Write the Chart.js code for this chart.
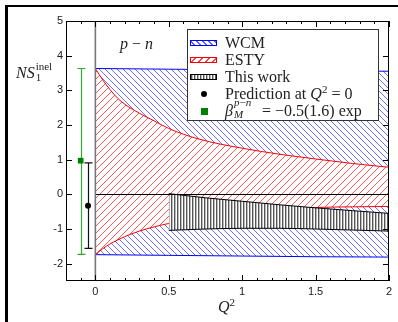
<!DOCTYPE html>
<html><head><meta charset="utf-8">
<script src="https://cdn.jsdelivr.net/npm/chart.js@4.4.1/dist/chart.umd.min.js"></script>
<style>
html,body{margin:0;padding:0;background:#fff;}
#wrap{position:relative;width:398px;height:322px;overflow:hidden;background:#fff;}
#c{position:absolute;left:0;top:0;}
.serif{font-family:"Liberation Serif","DejaVu Serif",serif;color:#222;position:absolute;white-space:nowrap;}
.fr{position:absolute;background:#000;}
#legend{position:absolute;left:187px;top:29px;width:192px;height:92px;border:1px solid #333;background:#fff;box-sizing:border-box;}
.row{position:absolute;left:37px;font-size:16px;line-height:17px;height:17px;}
.sw{position:absolute;left:2px;width:27px;height:6px;box-sizing:border-box;}
.mk{position:absolute;}
.eq{margin:0 4px;}
</style></head>
<body>
<div id="wrap">
<canvas id="c" width="398" height="322"></canvas>
<div class="fr" style="left:5px;top:5px;width:393px;height:2px;"></div>
<div class="fr" style="left:5px;top:5px;width:3px;height:317px;"></div>

<div class="serif" style="left:16px;top:62px;font-size:16px;line-height:18px;"><i>NS</i><span style="position:relative;display:inline-block;width:24px;height:16px;"><span style="position:absolute;left:1px;top:-2px;font-size:11px;line-height:12px;">inel</span><span style="position:absolute;left:1px;top:9px;font-size:11px;line-height:12px;">1</span></span></div>

<div class="serif" style="left:120px;top:35px;font-size:16px;line-height:18px;"><i>p</i> − <i>n</i></div>

<div class="serif" style="left:218px;top:298px;font-size:16px;line-height:18px;"><i>Q</i><span style="position:relative;top:-6px;font-size:11px;">2</span></div>

<div id="legend">
  <div class="sw" style="top:10px;border:1px solid #00f;background:repeating-linear-gradient(45deg,#fff 0 2px,#6060ff 2px 3px,#fff 3px 4.2px);"></div>
  <div class="row serif" style="top:4px;">WCM</div>
  <div class="sw" style="top:27px;border:1px solid #f00;background:repeating-linear-gradient(-45deg,#fff 0 2px,#ff4040 2px 3px,#fff 3px 4.9px);"></div>
  <div class="row serif" style="top:21px;">ESTY</div>
  <div class="sw" style="top:44px;border:1px solid #000;background:repeating-linear-gradient(90deg,#555 0 1px,#bbb 1px 2px,#fff 2px 3px);"></div>
  <div class="row serif" style="top:38px;">This work</div>
  <div class="mk" style="left:13px;top:61px;width:6px;height:6px;border-radius:50%;background:#000;"></div>
  <div class="row serif" style="top:55px;">Prediction at <i>Q</i><span style="position:relative;top:-6px;font-size:11px;">2</span><span class="eq">=</span>0</div>
  <div class="mk" style="left:13px;top:78px;width:7px;height:7px;background:#008000;"></div>
  <div class="row serif" style="top:72px;"><i>β</i><span style="position:relative;display:inline-block;width:25px;height:14px;"><span style="position:absolute;left:1px;top:-6px;font-size:11px;line-height:12px;"><i>p</i>−<i>n</i></span><span style="position:absolute;left:1px;top:6px;font-size:11px;line-height:12px;"><i>M</i></span></span><span class="eq">=</span>−0.5(1.6) exp</div>
</div>
</div>
<script>
// ---------- data ----------
const wcmX     = [0, 0.5, 1.0, 1.5, 2.0];
const wcmUpper = [3.63, 3.61, 3.59, 3.57, 3.55];
const wcmLower = [-1.74, -1.76, -1.78, -1.80, -1.81];

const estyX     = [0, 0.05, 0.1, 0.15, 0.2, 0.3, 0.4, 0.5, 0.7, 1.0, 1.25, 1.5, 1.75, 2.0];
const estyUpper = [3.63, 3.3, 3.02, 2.78, 2.6, 2.34, 2.12, 1.9, 1.6, 1.33, 1.16, 1.02, 0.89, 0.78];
const estyLower = [-1.74, -1.57, -1.43, -1.32, -1.22, -1.06, -0.94, -0.84, -0.69, -0.53, -0.44, -0.38, -0.36, -0.35];

const twX     = [0.5, 0.75, 1.0, 1.25, 1.5, 1.75, 2.0];
const twUpper = [0.02, -0.1, -0.2, -0.3, -0.39, -0.47, -0.55];
const twLower = [-1.04, -1.0, -0.98, -0.98, -1.0, -1.03, -1.06];

const predX = [-0.05], predY = [-0.33], predLo = [-1.56], predHi = [0.91];
const expX  = [-0.1],  expY  = [0.97],  expLo  = [-1.73], expHi  = [3.63];

const xTickVals   = [0, 0.5, 1, 1.5, 2];
const xTickLabels = ['0', '0.5', '1', '1.5', '2'];
const xMinorTicks = [-0.1, 0.1, 0.2, 0.3, 0.4, 0.6, 0.7, 0.8, 0.9, 1.1, 1.2, 1.3, 1.4, 1.6, 1.7, 1.8, 1.9];
const yTickVals   = [-2, -1, 0, 1, 2, 3, 4, 5];
const yTickLabels = ['-2', '-1', '0', '1', '2', '3', '4', '5'];
const zeroLineX = 0;
const zeroLineY = 0;

// ---------- patterns (pixel-drawn tiles) ----------
function hatch(color, dir, size) {
  const c = document.createElement('canvas'); c.width = c.height = size;
  const g = c.getContext('2d');
  g.fillStyle = '#ffffff'; g.fillRect(0, 0, size, size);
  g.fillStyle = color;
  for (let i = 0; i < size; i++) {
    const yy = dir === '/' ? size - 1 - i : i;
    g.fillRect(i, yy, 1, 1);
  }
  return g.createPattern(c, 'repeat');
}
function vert() {
  const c = document.createElement('canvas'); c.width = 3; c.height = 4;
  const g = c.getContext('2d');
  g.fillStyle = '#ffffff'; g.fillRect(0, 0, 3, 4);
  g.fillStyle = '#555555'; g.fillRect(0, 0, 1, 4);
  g.fillStyle = '#bbbbbb'; g.fillRect(1, 0, 1, 4);
  return g.createPattern(c, 'repeat');
}
const bluePat = hatch('#6e6eff', '\\', 6);
const redPat = hatch('#ff5a5a', '/', 7);
const twPat = vert();

const pts = (xs, ys) => xs.map((x, i) => ({x, y: ys[i]}));
const band = (o) => Object.assign({showLine: true, pointRadius: 0, borderWidth: 1, cubicInterpolationMode: 'monotone'}, o);

const datasets = [
  band({data: pts(wcmX, wcmUpper), borderColor: '#0000ff', backgroundColor: bluePat, fill: '+1', order: 6}),
  band({data: pts(wcmX, wcmLower), borderColor: '#0000ff', backgroundColor: bluePat, fill: false, order: 5}),
  band({data: pts(estyX, estyUpper), borderColor: '#ff0000', backgroundColor: redPat, fill: '+1', order: 4}),
  band({data: pts(estyX, estyLower), borderColor: '#ff0000', backgroundColor: redPat, fill: false, order: 3}),
  band({data: pts(twX, twUpper), borderColor: '#000000', backgroundColor: twPat, fill: '+1', order: 2}),
  band({data: pts(twX, twLower), borderColor: '#000000', backgroundColor: twPat, fill: false, order: 1}),
  {data: pts(predX, predY), showLine: false, pointStyle: 'circle', pointRadius: 3, backgroundColor: '#000', borderColor: '#000', borderWidth: 0, order: 0, errLo: predLo, errHi: predHi, errColor: '#111'},
  {data: pts(expX, expY), showLine: false, pointStyle: 'rect', pointRadius: 4, backgroundColor: '#008000', borderColor: '#008000', borderWidth: 0, order: -1, errLo: expLo, errHi: expHi, errColor: '#33aa33'}
];

const decor = {
  id: 'decor',
  beforeDatasetsDraw(chart) {
    const {ctx, scales: {x, y}} = chart;
    ctx.save();
    chart.data.datasets.forEach(ds => {
      if (!ds.errLo) return;
      ds.data.forEach((p, i) => {
        const px = Math.round(x.getPixelForValue(p.x)) + 0.5;
        const lo = y.getPixelForValue(ds.errLo[i]), hi = y.getPixelForValue(ds.errHi[i]);
        ctx.strokeStyle = ds.errColor; ctx.lineWidth = 1.2;
        ctx.beginPath();
        ctx.moveTo(px, lo); ctx.lineTo(px, hi);
        ctx.moveTo(px - 4, lo); ctx.lineTo(px + 4, lo);
        ctx.moveTo(px - 4, hi); ctx.lineTo(px + 4, hi);
        ctx.stroke();
      });
    });
    ctx.restore();
  },
  afterDraw(chart) {
    const {ctx, chartArea: a, scales: {x, y}} = chart;
    ctx.save();
    ctx.strokeStyle = '#000'; ctx.lineWidth = 1;
    const y0 = Math.round(y.getPixelForValue(zeroLineY)) + 0.5;
    ctx.beginPath(); ctx.moveTo(x.getPixelForValue(zeroLineX), y0); ctx.lineTo(a.right, y0); ctx.stroke();
    ctx.strokeStyle = '#777'; ctx.lineWidth = 1.6;
    const x0 = x.getPixelForValue(zeroLineX);
    ctx.beginPath(); ctx.moveTo(x0, a.top); ctx.lineTo(x0, a.bottom); ctx.stroke();
    ctx.strokeStyle = '#000'; ctx.lineWidth = 1;
    ctx.strokeRect(a.left + 0.5, a.top + 0.5, a.right - a.left - 1, a.bottom - a.top - 1);
    ctx.beginPath();
    const tx = (v, len) => {
      const p = Math.round(x.getPixelForValue(v)) + 0.5;
      ctx.moveTo(p, a.bottom); ctx.lineTo(p, a.bottom - len);
      ctx.moveTo(p, a.top); ctx.lineTo(p, a.top + len);
    };
    xTickVals.forEach(v => tx(v, 6));
    xMinorTicks.forEach(v => tx(v, 3));
    yTickVals.forEach(v => {
      const p = Math.round(y.getPixelForValue(v)) + 0.5;
      ctx.moveTo(a.left, p); ctx.lineTo(a.left + 6, p);
      ctx.moveTo(a.right, p); ctx.lineTo(a.right - 6, p);
    });
    ctx.stroke();
    ctx.restore();
  }
};

new Chart(document.getElementById('c'), {
  type: 'scatter',
  data: {datasets},
  options: {
    responsive: false, animation: false, devicePixelRatio: 1,
    layout: {padding: {left: 0, right: 9, top: 21, bottom: 0}},
    plugins: {legend: {display: false}, tooltip: {enabled: false}},
    scales: {
      x: {
        type: 'linear', min: -0.2, max: 2,
        grid: {display: false, drawTicks: false}, border: {display: false},
        afterBuildTicks: s => { s.ticks = xTickVals.map(v => ({value: v})); },
        afterFit: s => { s.height = 41; },
        ticks: {padding: 4, color: '#222', font: {family: 'Liberation Sans', size: 11},
          callback: (v) => xTickLabels[xTickVals.indexOf(v)], maxRotation: 0, autoSkip: false}
      },
      y: {
        type: 'linear', min: -2.5, max: 5,
        grid: {display: false, drawTicks: false}, border: {display: false},
        afterBuildTicks: s => { s.ticks = yTickVals.map(v => ({value: v})); },
        afterFit: s => { s.width = 66; },
        ticks: {padding: 3, color: '#222', font: {family: 'Liberation Sans', size: 11},
          callback: (v) => yTickLabels[yTickVals.indexOf(v)], autoSkip: false}
      }
    }
  },
  plugins: [decor]
});
</script>
</body></html>
